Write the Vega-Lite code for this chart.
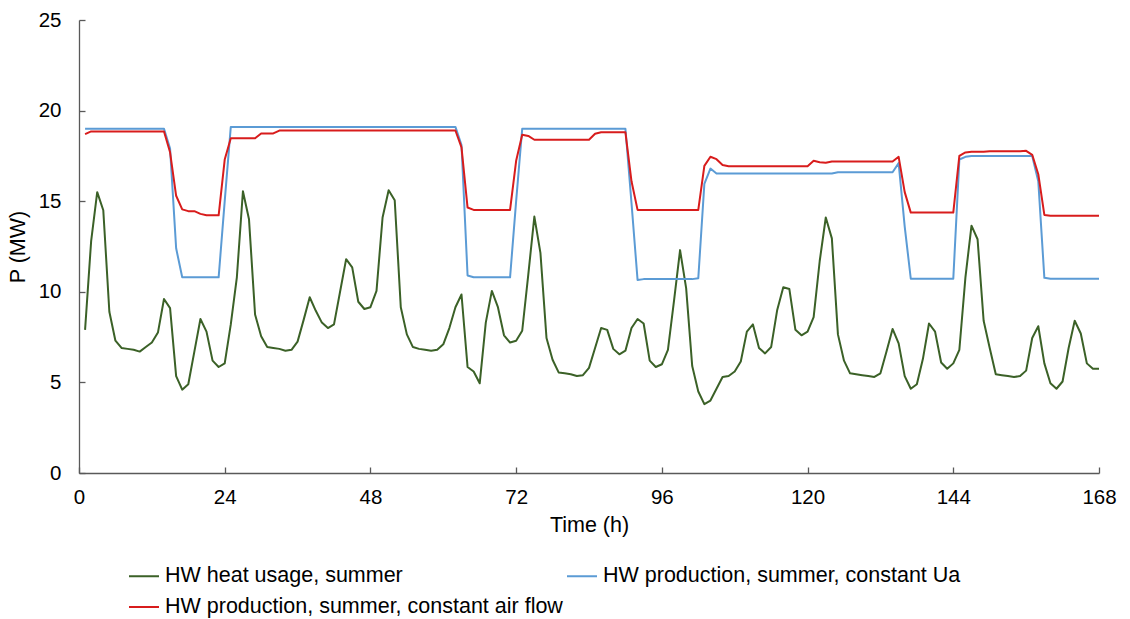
{
  "$schema": "https://vega.github.io/schema/vega-lite/v6.json",
  "width": 1020,
  "height": 453,
  "autosize": {"type": "none"},
  "padding": {"left": 79, "top": 20, "right": 31, "bottom": 146},
  "background": "white",
  "config": {
    "view": {"stroke": null},
    "font": "Liberation Sans",
    "axis": {
      "grid": false,
      "domainColor": "#595959",
      "domainWidth": 1.3,
      "tickColor": "#595959",
      "tickWidth": 1.3,
      "tickSize": -6,
      "labelFontSize": 20.5,
      "labelColor": "#000000",
      "labelFlush": false,
      "labelOverlap": false,
      "titleFontSize": 21.5,
      "titleFontWeight": "normal",
      "titleColor": "#000000"
    }
  },
  "data": {
    "values": [
      {"t": 1, "usage": 7.9, "ua": 19.0, "air": 18.7},
      {"t": 2, "usage": 12.8, "ua": 19.0, "air": 18.85},
      {"t": 3, "usage": 15.5, "ua": 19.0, "air": 18.85},
      {"t": 4, "usage": 14.5, "ua": 19.0, "air": 18.85},
      {"t": 5, "usage": 8.9, "ua": 19.0, "air": 18.85},
      {"t": 6, "usage": 7.3, "ua": 19.0, "air": 18.85},
      {"t": 7, "usage": 6.9, "ua": 19.0, "air": 18.85},
      {"t": 8, "usage": 6.85, "ua": 19.0, "air": 18.85},
      {"t": 9, "usage": 6.8, "ua": 19.0, "air": 18.85},
      {"t": 10, "usage": 6.7, "ua": 19.0, "air": 18.85},
      {"t": 11, "usage": 6.95, "ua": 19.0, "air": 18.85},
      {"t": 12, "usage": 7.2, "ua": 19.0, "air": 18.85},
      {"t": 13, "usage": 7.75, "ua": 19.0, "air": 18.85},
      {"t": 14, "usage": 9.6, "ua": 19.0, "air": 18.85},
      {"t": 15, "usage": 9.1, "ua": 17.9, "air": 17.7},
      {"t": 16, "usage": 5.35, "ua": 12.4, "air": 15.3},
      {"t": 17, "usage": 4.6, "ua": 10.8, "air": 14.55},
      {"t": 18, "usage": 4.9, "ua": 10.8, "air": 14.45},
      {"t": 19, "usage": 6.7, "ua": 10.8, "air": 14.45},
      {"t": 20, "usage": 8.5, "ua": 10.8, "air": 14.3},
      {"t": 21, "usage": 7.8, "ua": 10.8, "air": 14.22},
      {"t": 22, "usage": 6.2, "ua": 10.8, "air": 14.22},
      {"t": 23, "usage": 5.85, "ua": 10.8, "air": 14.22},
      {"t": 24, "usage": 6.05, "ua": 15.0, "air": 17.3},
      {"t": 25, "usage": 8.2, "ua": 19.1, "air": 18.47},
      {"t": 26, "usage": 10.8, "ua": 19.1, "air": 18.47},
      {"t": 27, "usage": 15.55, "ua": 19.1, "air": 18.47},
      {"t": 28, "usage": 14.0, "ua": 19.1, "air": 18.47},
      {"t": 29, "usage": 8.75, "ua": 19.1, "air": 18.47},
      {"t": 30, "usage": 7.55, "ua": 19.1, "air": 18.74},
      {"t": 31, "usage": 6.95, "ua": 19.1, "air": 18.74},
      {"t": 32, "usage": 6.9, "ua": 19.1, "air": 18.74},
      {"t": 33, "usage": 6.85, "ua": 19.1, "air": 18.9},
      {"t": 34, "usage": 6.75, "ua": 19.1, "air": 18.9},
      {"t": 35, "usage": 6.8, "ua": 19.1, "air": 18.9},
      {"t": 36, "usage": 7.25, "ua": 19.1, "air": 18.9},
      {"t": 37, "usage": 8.45, "ua": 19.1, "air": 18.9},
      {"t": 38, "usage": 9.7, "ua": 19.1, "air": 18.9},
      {"t": 39, "usage": 8.95, "ua": 19.1, "air": 18.9},
      {"t": 40, "usage": 8.3, "ua": 19.1, "air": 18.9},
      {"t": 41, "usage": 8.0, "ua": 19.1, "air": 18.9},
      {"t": 42, "usage": 8.2, "ua": 19.1, "air": 18.9},
      {"t": 43, "usage": 10.0, "ua": 19.1, "air": 18.9},
      {"t": 44, "usage": 11.8, "ua": 19.1, "air": 18.9},
      {"t": 45, "usage": 11.35, "ua": 19.1, "air": 18.9},
      {"t": 46, "usage": 9.45, "ua": 19.1, "air": 18.9},
      {"t": 47, "usage": 9.05, "ua": 19.1, "air": 18.9},
      {"t": 48, "usage": 9.15, "ua": 19.1, "air": 18.9},
      {"t": 49, "usage": 10.05, "ua": 19.1, "air": 18.9},
      {"t": 50, "usage": 14.1, "ua": 19.1, "air": 18.9},
      {"t": 51, "usage": 15.6, "ua": 19.1, "air": 18.9},
      {"t": 52, "usage": 15.05, "ua": 19.1, "air": 18.9},
      {"t": 53, "usage": 9.15, "ua": 19.1, "air": 18.9},
      {"t": 54, "usage": 7.65, "ua": 19.1, "air": 18.9},
      {"t": 55, "usage": 6.95, "ua": 19.1, "air": 18.9},
      {"t": 56, "usage": 6.85, "ua": 19.1, "air": 18.9},
      {"t": 57, "usage": 6.8, "ua": 19.1, "air": 18.9},
      {"t": 58, "usage": 6.75, "ua": 19.1, "air": 18.9},
      {"t": 59, "usage": 6.8, "ua": 19.1, "air": 18.9},
      {"t": 60, "usage": 7.1, "ua": 19.1, "air": 18.9},
      {"t": 61, "usage": 8.0, "ua": 19.1, "air": 18.9},
      {"t": 62, "usage": 9.15, "ua": 19.1, "air": 18.9},
      {"t": 63, "usage": 9.85, "ua": 18.1, "air": 17.97},
      {"t": 64, "usage": 5.85, "ua": 10.9, "air": 14.65},
      {"t": 65, "usage": 5.6, "ua": 10.8, "air": 14.52},
      {"t": 66, "usage": 4.95, "ua": 10.8, "air": 14.52},
      {"t": 67, "usage": 8.3, "ua": 10.8, "air": 14.52},
      {"t": 68, "usage": 10.05, "ua": 10.8, "air": 14.52},
      {"t": 69, "usage": 9.15, "ua": 10.8, "air": 14.52},
      {"t": 70, "usage": 7.6, "ua": 10.8, "air": 14.52},
      {"t": 71, "usage": 7.2, "ua": 10.8, "air": 14.52},
      {"t": 72, "usage": 7.3, "ua": 15.0, "air": 17.23},
      {"t": 73, "usage": 7.85, "ua": 19.0, "air": 18.67},
      {"t": 74, "usage": 10.95, "ua": 19.0, "air": 18.6},
      {"t": 75, "usage": 14.15, "ua": 19.0, "air": 18.39},
      {"t": 76, "usage": 12.15, "ua": 19.0, "air": 18.39},
      {"t": 77, "usage": 7.45, "ua": 19.0, "air": 18.39},
      {"t": 78, "usage": 6.25, "ua": 19.0, "air": 18.39},
      {"t": 79, "usage": 5.55, "ua": 19.0, "air": 18.39},
      {"t": 80, "usage": 5.5, "ua": 19.0, "air": 18.39},
      {"t": 81, "usage": 5.45, "ua": 19.0, "air": 18.39},
      {"t": 82, "usage": 5.35, "ua": 19.0, "air": 18.39},
      {"t": 83, "usage": 5.4, "ua": 19.0, "air": 18.39},
      {"t": 84, "usage": 5.8, "ua": 19.0, "air": 18.39},
      {"t": 85, "usage": 6.9, "ua": 19.0, "air": 18.72},
      {"t": 86, "usage": 8.0, "ua": 19.0, "air": 18.8},
      {"t": 87, "usage": 7.9, "ua": 19.0, "air": 18.8},
      {"t": 88, "usage": 6.85, "ua": 19.0, "air": 18.8},
      {"t": 89, "usage": 6.55, "ua": 19.0, "air": 18.8},
      {"t": 90, "usage": 6.75, "ua": 19.0, "air": 18.8},
      {"t": 91, "usage": 8.0, "ua": 14.9, "air": 16.1},
      {"t": 92, "usage": 8.5, "ua": 10.65, "air": 14.52},
      {"t": 93, "usage": 8.25, "ua": 10.7, "air": 14.52},
      {"t": 94, "usage": 6.2, "ua": 10.7, "air": 14.52},
      {"t": 95, "usage": 5.85, "ua": 10.7, "air": 14.52},
      {"t": 96, "usage": 6.0, "ua": 10.7, "air": 14.52},
      {"t": 97, "usage": 6.8, "ua": 10.7, "air": 14.52},
      {"t": 98, "usage": 9.5, "ua": 10.7, "air": 14.52},
      {"t": 99, "usage": 12.3, "ua": 10.7, "air": 14.52},
      {"t": 100, "usage": 10.2, "ua": 10.7, "air": 14.52},
      {"t": 101, "usage": 5.9, "ua": 10.7, "air": 14.52},
      {"t": 102, "usage": 4.5, "ua": 10.75, "air": 14.52},
      {"t": 103, "usage": 3.8, "ua": 15.95, "air": 16.95},
      {"t": 104, "usage": 4.0, "ua": 16.8, "air": 17.45},
      {"t": 105, "usage": 4.65, "ua": 16.53, "air": 17.32},
      {"t": 106, "usage": 5.3, "ua": 16.53, "air": 17.0},
      {"t": 107, "usage": 5.35, "ua": 16.53, "air": 16.93},
      {"t": 108, "usage": 5.6, "ua": 16.53, "air": 16.93},
      {"t": 109, "usage": 6.15, "ua": 16.53, "air": 16.93},
      {"t": 110, "usage": 7.8, "ua": 16.53, "air": 16.93},
      {"t": 111, "usage": 8.2, "ua": 16.53, "air": 16.93},
      {"t": 112, "usage": 6.9, "ua": 16.53, "air": 16.93},
      {"t": 113, "usage": 6.6, "ua": 16.53, "air": 16.93},
      {"t": 114, "usage": 6.95, "ua": 16.53, "air": 16.93},
      {"t": 115, "usage": 9.0, "ua": 16.53, "air": 16.93},
      {"t": 116, "usage": 10.25, "ua": 16.53, "air": 16.93},
      {"t": 117, "usage": 10.15, "ua": 16.53, "air": 16.93},
      {"t": 118, "usage": 7.9, "ua": 16.53, "air": 16.93},
      {"t": 119, "usage": 7.6, "ua": 16.53, "air": 16.93},
      {"t": 120, "usage": 7.8, "ua": 16.53, "air": 16.93},
      {"t": 121, "usage": 8.6, "ua": 16.53, "air": 17.23},
      {"t": 122, "usage": 11.7, "ua": 16.53, "air": 17.15},
      {"t": 123, "usage": 14.1, "ua": 16.53, "air": 17.12},
      {"t": 124, "usage": 12.95, "ua": 16.53, "air": 17.19},
      {"t": 125, "usage": 7.65, "ua": 16.6, "air": 17.19},
      {"t": 126, "usage": 6.2, "ua": 16.6, "air": 17.19},
      {"t": 127, "usage": 5.5, "ua": 16.6, "air": 17.19},
      {"t": 128, "usage": 5.45, "ua": 16.6, "air": 17.19},
      {"t": 129, "usage": 5.4, "ua": 16.6, "air": 17.19},
      {"t": 130, "usage": 5.35, "ua": 16.6, "air": 17.19},
      {"t": 131, "usage": 5.3, "ua": 16.6, "air": 17.19},
      {"t": 132, "usage": 5.5, "ua": 16.6, "air": 17.19},
      {"t": 133, "usage": 6.7, "ua": 16.6, "air": 17.19},
      {"t": 134, "usage": 7.95, "ua": 16.6, "air": 17.19},
      {"t": 135, "usage": 7.15, "ua": 17.1, "air": 17.45},
      {"t": 136, "usage": 5.35, "ua": 13.6, "air": 15.5},
      {"t": 137, "usage": 4.65, "ua": 10.72, "air": 14.37},
      {"t": 138, "usage": 4.9, "ua": 10.72, "air": 14.37},
      {"t": 139, "usage": 6.3, "ua": 10.72, "air": 14.37},
      {"t": 140, "usage": 8.25, "ua": 10.72, "air": 14.37},
      {"t": 141, "usage": 7.8, "ua": 10.72, "air": 14.37},
      {"t": 142, "usage": 6.1, "ua": 10.72, "air": 14.37},
      {"t": 143, "usage": 5.75, "ua": 10.72, "air": 14.37},
      {"t": 144, "usage": 6.05, "ua": 10.72, "air": 14.37},
      {"t": 145, "usage": 6.8, "ua": 17.3, "air": 17.5},
      {"t": 146, "usage": 10.8, "ua": 17.45, "air": 17.69},
      {"t": 147, "usage": 13.65, "ua": 17.5, "air": 17.73},
      {"t": 148, "usage": 12.9, "ua": 17.5, "air": 17.73},
      {"t": 149, "usage": 8.4, "ua": 17.5, "air": 17.73},
      {"t": 150, "usage": 6.9, "ua": 17.5, "air": 17.76},
      {"t": 151, "usage": 5.45, "ua": 17.5, "air": 17.76},
      {"t": 152, "usage": 5.4, "ua": 17.5, "air": 17.76},
      {"t": 153, "usage": 5.35, "ua": 17.5, "air": 17.76},
      {"t": 154, "usage": 5.3, "ua": 17.5, "air": 17.76},
      {"t": 155, "usage": 5.35, "ua": 17.5, "air": 17.76},
      {"t": 156, "usage": 5.65, "ua": 17.5, "air": 17.78},
      {"t": 157, "usage": 7.45, "ua": 17.5, "air": 17.56},
      {"t": 158, "usage": 8.1, "ua": 16.1, "air": 16.49},
      {"t": 159, "usage": 6.05, "ua": 10.77, "air": 14.24},
      {"t": 160, "usage": 4.95, "ua": 10.72, "air": 14.2},
      {"t": 161, "usage": 4.65, "ua": 10.72, "air": 14.2},
      {"t": 162, "usage": 5.05, "ua": 10.72, "air": 14.2},
      {"t": 163, "usage": 6.9, "ua": 10.72, "air": 14.2},
      {"t": 164, "usage": 8.4, "ua": 10.72, "air": 14.2},
      {"t": 165, "usage": 7.7, "ua": 10.72, "air": 14.2},
      {"t": 166, "usage": 6.05, "ua": 10.72, "air": 14.2},
      {"t": 167, "usage": 5.75, "ua": 10.72, "air": 14.2},
      {"t": 168, "usage": 5.75, "ua": 10.72, "air": 14.2}
    ]
  },
  "transform": [
    {"fold": ["usage", "ua", "air"], "as": ["series", "p"]}
  ],
  "mark": {"type": "line", "strokeWidth": 2, "strokeJoin": "round"},
  "encoding": {
    "x": {
      "field": "t",
      "type": "quantitative",
      "scale": {"domain": [0, 168], "nice": false, "zero": false},
      "axis": {
        "values": [0, 24, 48, 72, 96, 120, 144, 168],
        "title": "Time (h)",
        "labelPadding": 20,
        "titlePadding": 7
      }
    },
    "y": {
      "field": "p",
      "type": "quantitative",
      "scale": {"domain": [0, 25], "nice": false},
      "axis": {
        "values": [0, 5, 10, 15, 20, 25],
        "title": "P (MW)",
        "labelPadding": 24,
        "titlePadding": 9
      }
    },
    "color": {
      "field": "series",
      "type": "nominal",
      "scale": {
        "domain": ["usage", "ua", "air"],
        "range": ["#3b6127", "#5b9bd5", "#d81c1c"]
      },
      "legend": {
        "title": null,
        "orient": "none",
        "legendX": 49,
        "legendY": 540,
        "columns": 2,
        "direction": "horizontal",
        "symbolType": "stroke",
        "symbolSize": 900,
        "symbolStrokeWidth": 2,
        "labelFontSize": 21.5,
        "labelColor": "#000000",
        "labelLimit": 600,
        "labelOffset": 5,
        "columnPadding": 0,
        "rowPadding": 4,
        "labelExpr": "datum.label == 'usage' ? 'HW heat usage, summer' : datum.label == 'ua' ? 'HW production, summer, constant Ua' : 'HW production, summer, constant air flow'"
      }
    }
  }
}
